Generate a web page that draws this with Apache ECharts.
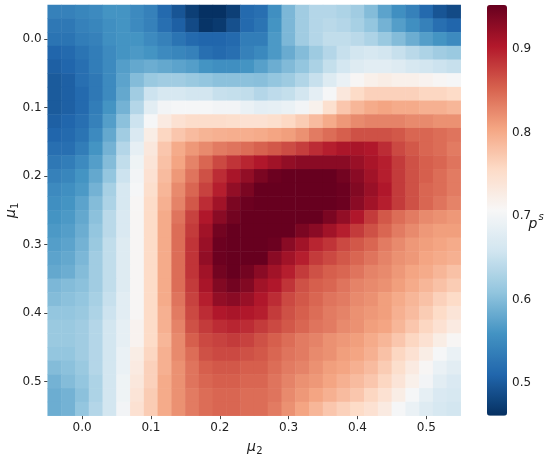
<!DOCTYPE html>
<html><head><meta charset="utf-8">
<script src="https://cdn.jsdelivr.net/npm/echarts@6.0.0/dist/echarts.min.js"></script>
<style>html,body{margin:0;padding:0;background:#fff}#c{width:550px;height:458px}</style>
</head><body><div id="c"></div>
<script>
// axis categories (mu values at cell centres)
const mu2Values = [-0.04,-0.02,0.00,0.02,0.04,0.06,0.08,0.10,0.12,0.14,0.16,0.18,0.20,0.22,0.24,0.26,0.28,0.30,0.32,0.34,0.36,0.38,0.40,0.42,0.44,0.46,0.48,0.50,0.52,0.54];
const mu1Values = [-0.04,-0.02,0.00,0.02,0.04,0.06,0.08,0.10,0.12,0.14,0.16,0.18,0.20,0.22,0.24,0.26,0.28,0.30,0.32,0.34,0.36,0.38,0.40,0.42,0.44,0.46,0.48,0.50,0.52,0.54];
const axisTickValues = [0.0,0.1,0.2,0.3,0.4,0.5];
const colorbarTicks = [0.5,0.6,0.7,0.8,0.9];
const pMin = 0.461, pMax = 0.953;

// p^s values, one array per mu1 row (top to bottom), columns follow mu2Values
const r00 = [0.54,0.54,0.545,0.55,0.56,0.56,0.55,0.54,0.515,0.495,0.475,0.462,0.462,0.475,0.515,0.52,0.555,0.595,0.62,0.635,0.635,0.63,0.62,0.60,0.575,0.555,0.54,0.515,0.495,0.485];
const r01 = [0.53,0.53,0.54,0.545,0.555,0.56,0.55,0.54,0.52,0.505,0.485,0.465,0.47,0.49,0.515,0.525,0.56,0.595,0.62,0.635,0.64,0.635,0.625,0.61,0.59,0.57,0.555,0.54,0.52,0.51];
const r02 = [0.525,0.525,0.535,0.54,0.555,0.56,0.56,0.55,0.54,0.525,0.515,0.51,0.51,0.515,0.535,0.535,0.565,0.595,0.62,0.635,0.645,0.645,0.64,0.63,0.615,0.60,0.585,0.57,0.56,0.55];
const r03 = [0.51,0.515,0.525,0.535,0.55,0.56,0.565,0.56,0.55,0.545,0.54,0.52,0.515,0.52,0.54,0.548,0.565,0.583,0.60,0.618,0.635,0.65,0.66,0.665,0.66,0.65,0.64,0.63,0.62,0.615];
const r04 = [0.505,0.51,0.52,0.535,0.55,0.57,0.58,0.585,0.58,0.575,0.57,0.56,0.555,0.555,0.56,0.572,0.585,0.598,0.61,0.628,0.648,0.662,0.675,0.68,0.68,0.675,0.665,0.66,0.655,0.65];
const r05 = [0.50,0.505,0.52,0.53,0.55,0.575,0.60,0.615,0.62,0.62,0.615,0.61,0.605,0.605,0.605,0.603,0.61,0.618,0.633,0.65,0.673,0.69,0.71,0.72,0.725,0.72,0.72,0.715,0.71,0.705];
const r06 = [0.50,0.505,0.515,0.53,0.55,0.58,0.62,0.655,0.665,0.665,0.66,0.66,0.65,0.648,0.645,0.635,0.643,0.648,0.66,0.683,0.705,0.735,0.755,0.765,0.765,0.765,0.765,0.76,0.76,0.755];
const r07 = [0.50,0.505,0.515,0.535,0.56,0.59,0.635,0.68,0.70,0.705,0.705,0.705,0.70,0.70,0.69,0.683,0.685,0.69,0.70,0.718,0.748,0.775,0.79,0.80,0.805,0.80,0.80,0.795,0.795,0.79];
const r08 = [0.505,0.51,0.52,0.54,0.57,0.605,0.655,0.705,0.73,0.745,0.752,0.752,0.752,0.75,0.745,0.745,0.75,0.758,0.77,0.785,0.80,0.815,0.825,0.83,0.83,0.83,0.825,0.825,0.82,0.82];
const r09 = [0.51,0.515,0.525,0.55,0.58,0.62,0.67,0.725,0.76,0.775,0.785,0.792,0.795,0.797,0.797,0.80,0.805,0.81,0.82,0.835,0.845,0.855,0.865,0.865,0.865,0.86,0.85,0.85,0.845,0.84];
const r10 = [0.52,0.52,0.535,0.56,0.59,0.635,0.685,0.735,0.775,0.80,0.815,0.825,0.835,0.84,0.845,0.853,0.86,0.868,0.878,0.89,0.90,0.908,0.91,0.905,0.89,0.87,0.86,0.85,0.845,0.835];
const r11 = [0.53,0.535,0.55,0.57,0.60,0.645,0.695,0.74,0.78,0.805,0.83,0.85,0.87,0.885,0.895,0.905,0.915,0.925,0.93,0.93,0.93,0.93,0.92,0.91,0.90,0.88,0.865,0.855,0.85,0.84];
const r12 = [0.54,0.545,0.56,0.58,0.61,0.655,0.70,0.745,0.785,0.815,0.84,0.865,0.89,0.91,0.925,0.94,0.95,0.955,0.955,0.955,0.955,0.945,0.93,0.915,0.90,0.88,0.865,0.855,0.845,0.835];
const r13 = [0.55,0.555,0.565,0.59,0.625,0.665,0.705,0.75,0.79,0.825,0.85,0.875,0.90,0.925,0.94,0.955,0.955,0.955,0.955,0.955,0.955,0.95,0.935,0.92,0.905,0.88,0.865,0.85,0.845,0.835];
const r14 = [0.555,0.56,0.575,0.60,0.63,0.665,0.71,0.755,0.795,0.83,0.86,0.89,0.915,0.94,0.95,0.955,0.955,0.955,0.955,0.955,0.955,0.95,0.93,0.915,0.90,0.88,0.865,0.85,0.84,0.83];
const r15 = [0.56,0.565,0.58,0.605,0.64,0.67,0.71,0.755,0.80,0.84,0.875,0.905,0.93,0.945,0.955,0.955,0.955,0.955,0.955,0.955,0.94,0.925,0.905,0.88,0.86,0.845,0.835,0.825,0.82,0.815];
const r16 = [0.565,0.57,0.585,0.61,0.64,0.67,0.71,0.755,0.80,0.845,0.88,0.915,0.945,0.955,0.955,0.955,0.955,0.955,0.94,0.93,0.915,0.90,0.88,0.865,0.85,0.835,0.825,0.815,0.81,0.81];
const r17 = [0.57,0.575,0.59,0.615,0.645,0.675,0.71,0.755,0.80,0.845,0.885,0.92,0.95,0.955,0.955,0.955,0.95,0.93,0.915,0.895,0.885,0.87,0.86,0.85,0.835,0.825,0.815,0.81,0.805,0.80];
const r18 = [0.575,0.58,0.595,0.62,0.645,0.675,0.71,0.755,0.80,0.845,0.885,0.925,0.95,0.955,0.955,0.955,0.93,0.915,0.90,0.88,0.87,0.86,0.85,0.84,0.83,0.82,0.815,0.805,0.80,0.795];
const r19 = [0.58,0.585,0.60,0.62,0.645,0.675,0.71,0.755,0.80,0.845,0.885,0.915,0.945,0.955,0.945,0.93,0.915,0.90,0.88,0.865,0.855,0.85,0.84,0.83,0.825,0.815,0.805,0.80,0.79,0.78];
const r20 = [0.595,0.60,0.605,0.62,0.645,0.675,0.71,0.755,0.80,0.845,0.88,0.91,0.935,0.945,0.935,0.915,0.905,0.885,0.865,0.855,0.85,0.84,0.83,0.825,0.82,0.81,0.80,0.79,0.78,0.77];
const r21 = [0.60,0.605,0.61,0.625,0.65,0.68,0.71,0.755,0.80,0.84,0.875,0.90,0.925,0.93,0.92,0.905,0.89,0.87,0.86,0.85,0.84,0.835,0.825,0.82,0.81,0.80,0.79,0.78,0.765,0.755];
const r22 = [0.61,0.61,0.615,0.63,0.655,0.68,0.71,0.755,0.795,0.835,0.87,0.89,0.905,0.91,0.905,0.90,0.88,0.865,0.855,0.845,0.835,0.83,0.82,0.815,0.81,0.795,0.785,0.77,0.755,0.74];
const r23 = [0.615,0.615,0.62,0.635,0.66,0.685,0.715,0.755,0.795,0.83,0.865,0.88,0.89,0.895,0.89,0.88,0.87,0.86,0.85,0.84,0.835,0.825,0.82,0.81,0.805,0.79,0.775,0.76,0.745,0.73];
const r24 = [0.615,0.615,0.62,0.635,0.66,0.685,0.715,0.755,0.79,0.825,0.855,0.87,0.875,0.88,0.875,0.865,0.855,0.845,0.835,0.83,0.82,0.815,0.81,0.80,0.79,0.775,0.76,0.745,0.725,0.71];
const r25 = [0.61,0.61,0.62,0.635,0.66,0.69,0.725,0.76,0.795,0.825,0.845,0.865,0.87,0.87,0.865,0.86,0.85,0.84,0.835,0.825,0.82,0.81,0.805,0.795,0.78,0.76,0.745,0.725,0.705,0.69];
const r26 = [0.60,0.605,0.615,0.635,0.66,0.69,0.73,0.765,0.795,0.82,0.84,0.855,0.86,0.86,0.855,0.855,0.845,0.835,0.83,0.82,0.81,0.805,0.795,0.785,0.77,0.75,0.73,0.71,0.69,0.68];
const r27 = [0.59,0.60,0.61,0.63,0.66,0.695,0.735,0.765,0.80,0.82,0.84,0.85,0.855,0.855,0.85,0.85,0.84,0.83,0.82,0.815,0.805,0.795,0.785,0.775,0.76,0.74,0.72,0.70,0.68,0.67];
const r28 = [0.585,0.59,0.605,0.63,0.66,0.695,0.74,0.77,0.80,0.82,0.835,0.845,0.85,0.85,0.845,0.845,0.84,0.825,0.815,0.805,0.795,0.785,0.775,0.76,0.745,0.725,0.705,0.685,0.67,0.665];
const r29 = [0.585,0.59,0.61,0.635,0.66,0.70,0.745,0.77,0.80,0.82,0.835,0.845,0.85,0.85,0.845,0.845,0.835,0.82,0.805,0.79,0.775,0.765,0.755,0.745,0.73,0.705,0.69,0.675,0.665,0.66];

const rows = [r00,r01,r02,r03,r04,r05,r06,r07,r08,r09,r10,r11,r12,r13,r14,r15,r16,r17,r18,r19,r20,r21,r22,r23,r24,r25,r26,r27,r28,r29];
const cells = [];
rows.forEach((row, yi) => row.forEach((v, xi) => cells.push([xi, yi, v])));

const rdbuR = ['#053061','#2166ac','#4393c3','#92c5de','#d1e5f0','#f7f7f7','#fddbc7','#f4a582','#d6604d','#b2182b','#67001f'];
const FONT = '"DejaVu Sans", sans-serif';
const TXT = '#222';
const isTick = (vals) => (idx) => axisTickValues.some(t => Math.abs(vals[idx] - t) < 1e-9);

const chart = echarts.init(document.getElementById('c'), null, {renderer: 'canvas'});
chart.setOption({
  backgroundColor: '#fff',
  animation: false,
  grid: [
    {left: 47.7, top: 5, width: 413, height: 410.7, outerBoundsMode: 'none', containLabel: false},
    {left: 487, top: 5, width: 20, height: 410.7, outerBoundsMode: 'none', containLabel: false}
  ],
  xAxis: [
    {type: 'category', gridIndex: 0, data: mu2Values.map(v => v.toFixed(2)), position: 'bottom',
     axisLine: {show: false}, splitLine: {show: false},
     axisTick: {show: true, alignWithLabel: true, interval: (i) => isTick(mu2Values)(i), length: 3.5, lineStyle: {color: '#333', width: 0.9}},
     axisLabel: {interval: (i) => isTick(mu2Values)(i), formatter: v => Number(v).toFixed(1), margin: 6, fontSize: 12, fontFamily: FONT, color: TXT}},
    {type: 'value', gridIndex: 1, show: false, min: 0, max: 1}
  ],
  yAxis: [
    {type: 'category', gridIndex: 0, data: mu1Values.map(v => v.toFixed(2)), inverse: true, position: 'left',
     axisLine: {show: false}, splitLine: {show: false},
     axisTick: {show: true, alignWithLabel: true, interval: (i) => isTick(mu1Values)(i), length: 3.5, lineStyle: {color: '#333', width: 0.9}},
     axisLabel: {interval: (i) => isTick(mu1Values)(i), formatter: v => Number(v).toFixed(1), margin: 6, fontSize: 12, fontFamily: FONT, color: TXT}},
    {type: 'value', gridIndex: 1, min: pMin, max: pMax, position: 'right',
     axisLine: {show: false}, splitLine: {show: false},
     axisTick: {show: true, customValues: colorbarTicks, length: 3.5, lineStyle: {color: '#333', width: 0.9}},
     axisLabel: {customValues: colorbarTicks, formatter: v => v.toFixed(1), margin: 5, fontSize: 12, fontFamily: FONT, color: TXT}}
  ],
  visualMap: {
    type: 'continuous', seriesIndex: 0, min: pMin, max: pMax, calculable: false,
    orient: 'vertical', left: 487, top: 5, itemWidth: 20, itemHeight: 410.7, padding: 0,
    inRange: {color: rdbuR}, hoverLink: false
  },
  series: [
    {type: 'heatmap', xAxisIndex: 0, yAxisIndex: 0, data: cells, progressive: 0,
     itemStyle: {borderWidth: 0}, emphasis: {disabled: true}, silent: true},
    {type: 'scatter', xAxisIndex: 1, yAxisIndex: 1, data: [], silent: true}
  ],
  graphic: [
    {type: 'text', x: 251.5, y: 447, style: {text: 'μ', font: 'italic 14px ' + FONT, align: 'center', verticalAlign: 'middle', fill: TXT}},
    {type: 'text', x: 259.5, y: 451, style: {text: '2', font: '10px ' + FONT, align: 'center', verticalAlign: 'middle', fill: TXT}},
    {type: 'group', x: 11, y: 210.3, rotation: Math.PI / 2, children: [
      {type: 'text', x: -3.2, y: 0, style: {text: 'μ', font: 'italic 14px ' + FONT, align: 'center', verticalAlign: 'middle', fill: TXT}},
      {type: 'text', x: 4.6, y: 4, style: {text: '1', font: '10px ' + FONT, align: 'center', verticalAlign: 'middle', fill: TXT}}
    ]},
    {type: 'text', x: 533, y: 224, style: {text: 'p', font: 'italic 14px ' + FONT, align: 'center', verticalAlign: 'middle', fill: TXT}},
    {type: 'text', x: 541, y: 217, style: {text: 's', font: 'italic 10px ' + FONT, align: 'center', verticalAlign: 'middle', fill: TXT}}
  ]
});
</script>
</body></html>
